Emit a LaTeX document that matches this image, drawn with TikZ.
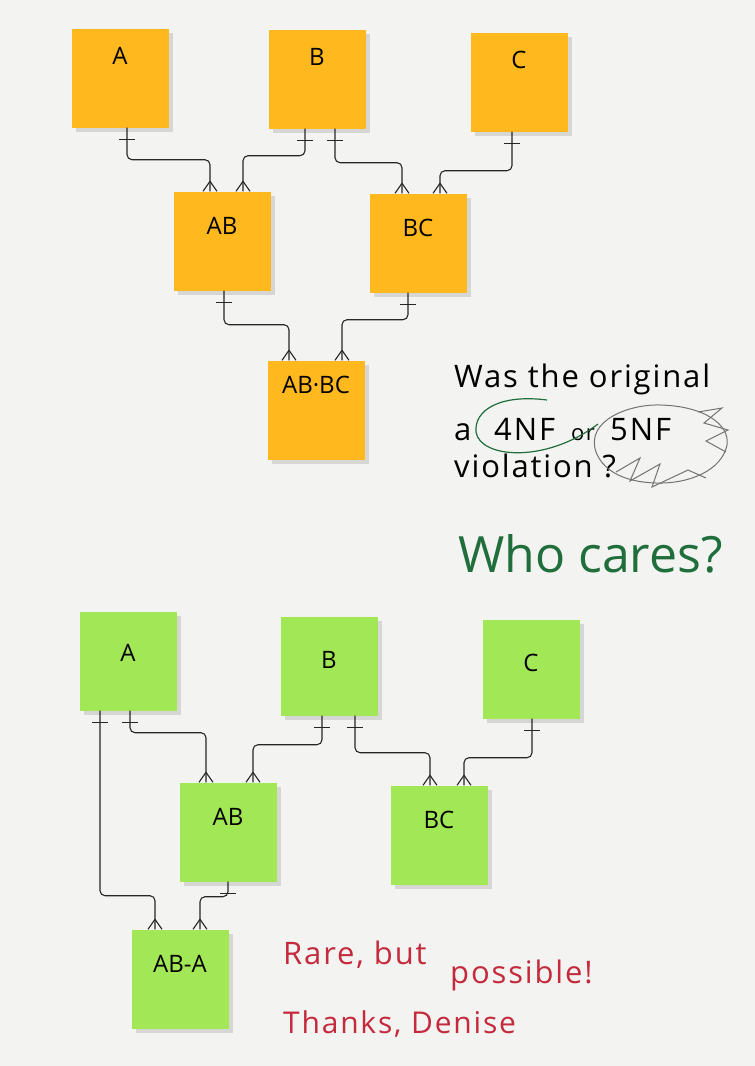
\documentclass[tikz,border=0pt]{standalone}
\usepackage{fontspec}
\setmainfont{Open Sans}
\newfontfamily\handfont{Open Sans}[LetterSpace=6]
\usetikzlibrary{arrows.meta,positioning,calc,shadows}
\definecolor{noteOrange}{HTML}{FFB81E}
\definecolor{noteGreen}{HTML}{A2E856}
\definecolor{boardGray}{HTML}{F3F3F1}
\definecolor{penGreen}{HTML}{1F6E3C}
\definecolor{penRed}{HTML}{C42A3C}

% crow's foot (many) and single bar (one)
\pgfdeclarearrow{
  name=crowfoot,
  setup code={\pgfarrowssettipend{0pt}\pgfarrowssetlineend{0pt}%
    \pgfarrowssetbackend{-10pt}\pgfarrowlinewidth=\pgflinewidth},
  drawing code={
    \pgfpathmoveto{\pgfpoint{-10pt}{0pt}}
    \pgfpathlineto{\pgfpoint{0pt}{7pt}}
    \pgfpathmoveto{\pgfpoint{-10pt}{0pt}}
    \pgfpathlineto{\pgfpoint{0pt}{-7pt}}
    \pgfusepathqstroke}
}
\pgfdeclarearrow{
  name=onebar,
  setup code={\pgfarrowssettipend{0pt}\pgfarrowssetlineend{0pt}%
    \pgfarrowssetbackend{-12pt}\pgfarrowlinewidth=\pgflinewidth},
  drawing code={
    \pgfpathmoveto{\pgfpoint{-12pt}{8pt}}
    \pgfpathlineto{\pgfpoint{-12pt}{-8pt}}
    \pgfusepathqstroke}
}

\begin{document}
\begin{tikzpicture}[x=1pt,y=-1pt,font=\fontsize{24}{28}\selectfont,
  note/.style={minimum width=97pt,minimum height=99pt,inner sep=0pt,text depth=30pt,
    drop shadow={shadow xshift=4pt,shadow yshift=-4pt,opacity=0.25}},
  link/.style={draw=black!85,line width=1.1pt,rounded corners=5pt,{onebar}-{crowfoot}},
  hand/.style={anchor=base west,inner sep=0pt,font=\handfont\fontsize{31}{34}\selectfont},
  scribble/.style={draw=black!55,line width=1pt}]
\fill[boardGray] (0,0) rectangle (755,1066);
\useasboundingbox (0,0) rectangle (755,1066);

% top design
\node[note,fill=noteOrange,text depth=44pt] (tA) at (120,78) {A};
\node[note,fill=noteOrange,text depth=44pt] (tB) at (317,79) {B};
\node[note,fill=noteOrange,text depth=44pt] (tC) at (519,82) {C};
\node[note,fill=noteOrange] (tAB) at (222,241) {AB};
\node[note,fill=noteOrange] (tBC) at (418,243) {BC};
\node[note,fill=noteOrange,text depth=50pt] (tABBC) at (316,410) {AB·BC};

\draw[link] ([xshift=7pt]tA.south) -- ++(0,32) -| ([xshift=-12pt]tAB.north);
\draw[link] ([xshift=-12pt]tB.south) -- ++(0,27) -| ([xshift=21pt]tAB.north);
\draw[link] ([xshift=18pt]tB.south) -- ++(0,34) -| ([xshift=-16pt]tBC.north);
\draw[link] ([xshift=-7pt]tC.south) -- ++(0,39) -| ([xshift=22pt]tBC.north);
\draw[link] ([xshift=2pt]tAB.south) -- ++(0,34) -| ([xshift=-27pt]tABBC.north);
\draw[link] ([xshift=-10pt]tBC.south) -- ++(0,27) -| ([xshift=26pt]tABBC.north);

% bottom design
\node[note,fill=noteGreen,text depth=16pt] (gA) at (128,661) {A};
\node[note,fill=noteGreen,text depth=12pt] (gB) at (329,666) {B};
\node[note,fill=noteGreen,text depth=12pt] (gC) at (531,669) {C};
\node[note,fill=noteGreen] (gAB) at (228,832) {AB};
\node[note,fill=noteGreen] (gBC) at (439,835) {BC};
\node[note,fill=noteGreen] (gABA) at (180,979) {AB-A};

\draw[link] ([xshift=-28pt]gA.south) -- ++(0,185) -| ([xshift=-25pt]gABA.north);
\draw[link] ([xshift=2pt]gA.south) -- ++(0,22) -| ([xshift=-22pt]gAB.north);
\draw[link] ([xshift=-7pt]gB.south) -- ++(0,29) -| ([xshift=25pt]gAB.north);
\draw[link] ([xshift=26pt]gB.south) -- ++(0,37) -| ([xshift=-9pt]gBC.north);
\draw[link] ([xshift=1pt]gC.south) -- ++(0,39) -| ([xshift=25pt]gBC.north);
\draw[link] (gAB.south) -- ++(0,15) -| ([xshift=20pt]gABA.north);

% question
\node[hand] (q1) at (454,387) {Was the original};
\node[hand] (qa) at (454,440) {a};
\node[hand] (q4) at (494,440) {4NF};
\node[hand,font=\handfont\fontsize{22}{24}\selectfont] (qor) at (571,440) {or};
\node[hand] (q5) at (610,440) {5NF};
\node[hand] (q3) at (454,477) {violation ?};
\draw[penGreen,line width=1.2pt] (547,400) .. controls (500,394) and (474,410) .. (476,432)
  .. controls (480,458) and (545,464) .. (598,424);
\draw[scribble] (596,452) .. controls (585,420) and (630,404) .. (660,405)
  .. controls (705,406) and (730,425) .. (727,445) .. controls (722,470) and (690,484) .. (656,483)
  .. controls (620,482) and (602,468) .. (596,452);
\draw[scribble] (698,412) -- (722,408) -- (704,423) -- (728,430) -- (706,441) -- (726,452);
\draw[scribble] (616,472) -- (640,458) -- (630,481) -- (660,464) -- (652,487) -- (688,470) -- (706,478);
\node[hand,font=\fontsize{50}{56}\selectfont,text=penGreen] (who) at (458,572) {Who cares?};

% remark
\node[hand,text=penRed] (r1) at (283,964) {Rare, but};
\node[hand,text=penRed] (r1b) at (450,983) {possible!};
\node[hand,text=penRed,font=\handfont\fontsize{30}{32}\selectfont] (r2) at (283,1033) {Thanks, Denise};
\end{tikzpicture}
\end{document}
